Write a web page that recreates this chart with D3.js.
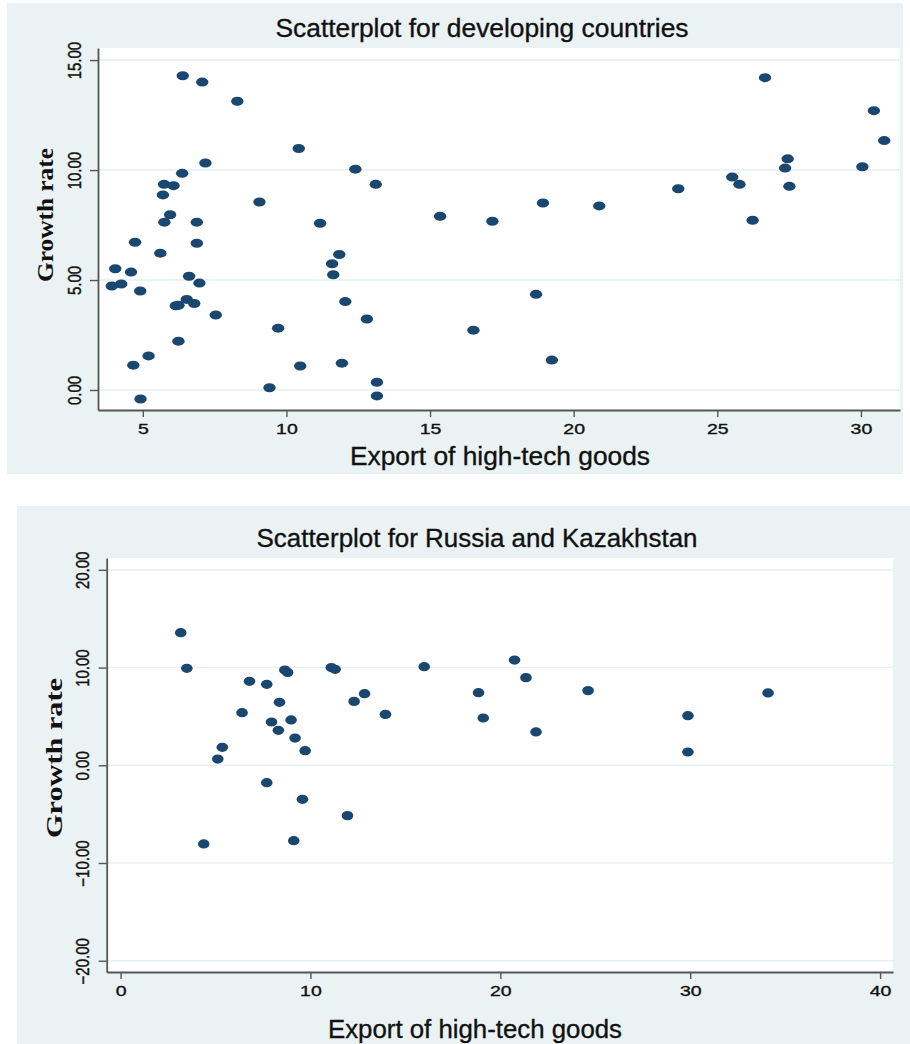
<!DOCTYPE html>
<meta charset="utf-8">
<style>
body { margin: 0; background: #fff; }
text { font-family: "Liberation Sans", Arial, sans-serif; fill: #111; stroke: #111; stroke-width: 0.35px; }
.ylab { font-family: "Liberation Serif", "Times New Roman", serif; font-weight: bold; stroke-width: 0; }
.axis path, .axis line { stroke: #555; }
</style>
<svg width="910" height="1044"></svg>
<script src="https://cdn.jsdelivr.net/npm/d3@7"></script>
<script>

// developing countries: export of high-tech goods vs growth rate
var devX = [6.39, 7.07, 8.29, 10.43, 7.18, 6.37, 5.74, 6.07, 5.70, 12.40, 13.11, 9.06, 5.95, 5.75, 6.88, 11.17,
            15.35, 26.66, 30.45, 30.81, 27.45, 27.36, 30.05, 25.52, 25.77, 27.51, 23.64, 18.93, 20.89, 17.17, 26.23,
            4.73, 6.88, 5.61, 11.84, 11.59, 4.04, 4.59, 11.63, 6.61, 3.92, 4.25, 6.97, 4.91, 12.05, 6.24, 6.15,
            6.53, 6.79, 7.54, 12.80, 9.71, 6.24, 5.20, 4.67, 10.48, 11.93, 9.41, 13.15, 13.15, 4.92, 18.69, 16.51, 19.24];
var devY = [14.29, 14.00, 13.13, 10.98, 10.32, 9.85, 9.35, 9.29, 8.87, 10.04, 9.35, 8.55, 7.97, 7.63, 7.63, 7.58,
            7.90, 14.20, 12.70, 11.34, 10.51, 10.09, 10.15, 9.68, 9.35, 9.26, 9.15, 8.50, 8.37, 7.67, 7.72,
            6.72, 6.67, 6.22, 6.16, 5.74, 5.51, 5.36, 5.24, 5.17, 4.73, 4.82, 4.86, 4.50, 4.02, 3.85, 3.83,
            4.12, 3.93, 3.41, 3.23, 2.81, 2.22, 1.55, 1.13, 1.09, 1.22, 0.10, 0.35, -0.27, -0.41, 4.35, 2.72, 1.36];

// Russia and Kazakhstan
var rkX = [3.17, 3.49, 8.65, 8.80, 11.10, 11.30, 15.99, 6.79, 7.70, 8.37, 12.30, 12.85, 6.40, 13.95, 7.95, 8.98,
           8.31, 9.19, 9.72, 5.36, 5.12, 20.75, 21.35, 18.85, 24.62, 34.10, 19.10, 29.88, 21.88, 29.88,
           7.70, 9.58, 11.95, 4.38, 9.12];
var rkY = [13.57, 9.92, 9.75, 9.50, 10.00, 9.82, 10.09, 8.59, 8.28, 6.44, 6.54, 7.33, 5.38, 5.21, 4.43, 4.64,
           3.58, 2.79, 1.50, 1.84, 0.64, 10.77, 8.97, 7.43, 7.64, 7.40, 4.84, 5.08, 3.41, 1.36,
           -1.78, -3.48, -5.15, -8.05, -7.71];

var devXTicks = [5, 10, 15, 20, 25, 30],
    devYTicks = [0, 5, 10, 15],
    rkXTicks = [0, 10, 20, 30, 40],
    rkYTicks = [-20, -10, 0, 10, 20];

var svg = d3.select("svg");

drawPanel({
  panel: [7, 3, 903, 474],
  plot: [98, 48, 900, 410],
  xDomain: [3.44, 31.36], yDomain: [-0.91, 15.55],
  xTicks: devXTicks, yTicks: devYTicks,
  xs: devX, ys: devY,
  title: "Scatterplot for developing countries", titlePos: [482, 37, 413],
  xlabPos: [500, 465, 300],
  ylabPos: [53, 215, 134],
  ytickOff: 17,
  r: [6.2, 4.5]
});

drawPanel({
  panel: [17, 506, 910, 1044],
  plot: [106.7, 558, 893, 972],
  xDomain: [-0.73, 40.68], yDomain: [-21.15, 21.21],
  xTicks: rkXTicks, yTicks: rkYTicks,
  xs: rkX, ys: rkY,
  title: "Scatterplot for Russia and Kazakhstan", titlePos: [477, 547, 441],
  xlabPos: [475, 1038, 294],
  ylabPos: [62, 758, 160],
  ytickOff: 18,
  r: [5.8, 4.6]
});

function drawPanel(c) {
  var g = svg.append("g");

  g.append("rect")
      .attr("x", c.panel[0]).attr("y", c.panel[1])
      .attr("width", c.panel[2] - c.panel[0]).attr("height", c.panel[3] - c.panel[1])
      .attr("fill", "#eaf2f3");

  g.append("rect")
      .attr("x", c.plot[0]).attr("y", c.plot[1])
      .attr("width", c.plot[2] - c.plot[0]).attr("height", c.plot[3] - c.plot[1])
      .attr("fill", "#fff");

  var x = d3.scaleLinear().domain(c.xDomain).range([c.plot[0], c.plot[2]]),
      y = d3.scaleLinear().domain(c.yDomain).range([c.plot[3], c.plot[1]]);

  // grid
  g.append("g").selectAll("line")
      .data(c.yTicks)
    .enter().append("line")
      .attr("x1", c.plot[0]).attr("x2", c.plot[2])
      .attr("y1", function(d) { return y(d); })
      .attr("y2", function(d) { return y(d); })
      .attr("stroke", "#e6eff1")
      .attr("stroke-width", 1.6);

  // points
  var pts = c.xs.map(function(d, i) { return [d, c.ys[i]]; });
  g.append("g").selectAll("ellipse")
      .data(pts)
    .enter().append("ellipse")
      .attr("cx", function(d) { return x(d[0]); })
      .attr("cy", function(d) { return y(d[1]); })
      .attr("rx", c.r[0]).attr("ry", c.r[1])
      .attr("fill", "#1a476f");

  // axes
  var ax = g.append("g")
      .attr("class", "axis")
      .attr("transform", "translate(0," + c.plot[3] + ")")
      .call(d3.axisBottom(x).tickValues(c.xTicks).tickSize(7).tickSizeOuter(0).tickFormat(d3.format("d")));
  ax.select(".domain").attr("stroke-width", 1.8);
  ax.selectAll("line").attr("stroke-width", 1.4);
  ax.selectAll("text")
      .attr("font-size", 15)
      .attr("fill", "#222")
      .attr("y", 24).attr("dy", 0)
      .attr("transform", "scale(1.3,1)");

  var ay = g.append("g")
      .attr("class", "axis")
      .attr("transform", "translate(" + c.plot[0] + ",0)")
      .call(d3.axisLeft(y).tickValues(c.yTicks).tickSize(8).tickSizeOuter(0).tickFormat(d3.format(".2f")));
  ay.select(".domain").attr("stroke-width", 1.8);
  ay.selectAll("line").attr("stroke-width", 1.4);
  ay.selectAll("text")
      .attr("font-size", 15)
      .attr("fill", "#222")
      .attr("text-anchor", "middle")
      .attr("x", 0).attr("dy", 0)
      .attr("y", -c.ytickOff / 1.2)
      .attr("transform", "rotate(-90) scale(1,1.2)");

  // titles
  g.append("text")
      .attr("x", c.titlePos[0]).attr("y", c.titlePos[1])
      .attr("text-anchor", "middle")
      .attr("font-size", 26)
      .attr("textLength", c.titlePos[2]).attr("lengthAdjust", "spacingAndGlyphs")
      .text(c.title);

  g.append("text")
      .attr("x", c.xlabPos[0]).attr("y", c.xlabPos[1])
      .attr("text-anchor", "middle")
      .attr("font-size", 26)
      .attr("textLength", c.xlabPos[2]).attr("lengthAdjust", "spacingAndGlyphs")
      .text("Export of high-tech goods");

  g.append("text")
      .attr("class", "ylab")
      .attr("transform", "translate(" + c.ylabPos[0] + "," + c.ylabPos[1] + ") rotate(-90)")
      .attr("text-anchor", "middle")
      .attr("font-size", 23)
      .attr("textLength", c.ylabPos[2]).attr("lengthAdjust", "spacingAndGlyphs")
      .text("Growth rate");
}

</script>
